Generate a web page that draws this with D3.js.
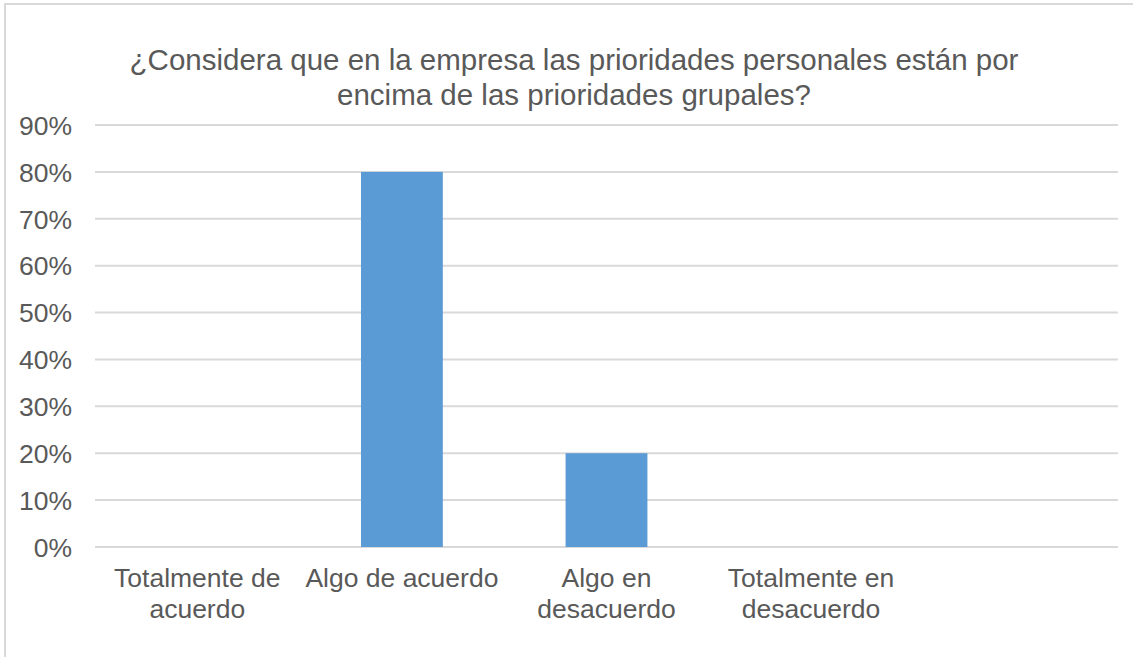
<!DOCTYPE html>
<html>
<head>
<meta charset="utf-8">
<script src="https://cdn.jsdelivr.net/npm/d3@7"></script>
<style>
  html, body { margin: 0; padding: 0; background: #fff; }
  svg { display: block; }
  text { font-family: "Liberation Sans", Arial, sans-serif; fill: #595959; }
</style>
</head>
<body>
<svg id="chart" width="1133" height="657"></svg>
<script>
// Survey answers (share of respondents)
const categories = ["Totalmente de acuerdo", "Algo de acuerdo", "Algo en desacuerdo", "Totalmente en desacuerdo", ""];
const categoryLines = [["Totalmente de", "acuerdo"], ["Algo de acuerdo"], ["Algo en", "desacuerdo"], ["Totalmente en", "desacuerdo"], [""]];
const values = [0, 0.80, 0.20, 0, null];
const yTicks = [0, 0.1, 0.2, 0.3, 0.4, 0.5, 0.6, 0.7, 0.8, 0.9];
const titleLines = ["¿Considera que en la empresa las prioridades personales están por", "encima de las prioridades grupales?"];

const svg = d3.select("#chart");
const plot = { left: 95, right: 1118, top: 125, bottom: 547 };

// chart area frame
svg.append("rect")
  .attr("x", 5).attr("y", 4)
  .attr("width", 1150).attr("height", 700)
  .attr("fill", "#fff")
  .attr("stroke", "#d9d9d9").attr("stroke-width", 2);

const x = d3.scaleBand()
  .domain(categories.map((d, i) => i))
  .range([plot.left, plot.right])
  .paddingInner(0.6).paddingOuter(0.3);

const y = d3.scaleLinear().domain([0, 0.9]).range([plot.bottom, plot.top]);

// gridlines
svg.append("g").selectAll("line").data(yTicks).join("line")
  .attr("x1", plot.left).attr("x2", plot.right)
  .attr("y1", d => y(d)).attr("y2", d => y(d))
  .attr("stroke", "#d9d9d9").attr("stroke-width", 2);

// y axis labels
const yAxis = d3.axisLeft(y).tickValues(yTicks).tickFormat(d3.format(".0%")).tickSize(0).tickPadding(0);
const gy = svg.append("g").attr("transform", `translate(72,0)`).call(yAxis);
gy.select(".domain").remove();
gy.selectAll("text")
  .attr("font-family", "'Liberation Sans', Arial, sans-serif")
  .attr("font-size", 26.5)
  .attr("fill", "#595959")
  .attr("dy", "0.35em");

// bars
svg.append("g").selectAll("rect")
  .data(values.map((v, i) => ({ v, i })).filter(d => d.v !== null && d.v > 0))
  .join("rect")
  .attr("x", d => x(d.i))
  .attr("width", x.bandwidth())
  .attr("y", d => y(d.v))
  .attr("height", d => y(0) - y(d.v))
  .attr("fill", "#5b9bd5");

// category labels
const cat = svg.append("g").selectAll("text").data(categoryLines).join("text")
  .attr("text-anchor", "middle")
  .attr("font-size", 26.5)
  .attr("fill", "#595959");
cat.each(function (lines, i) {
  const cx = x(i) + x.bandwidth() / 2;
  d3.select(this).selectAll("tspan").data(lines).join("tspan")
    .attr("x", cx)
    .attr("y", (d, j) => 587 + j * 31)
    .text(d => d);
});

// title
svg.append("g").selectAll("text").data(titleLines).join("text")
  .attr("x", 574)
  .attr("y", (d, i) => 70 + i * 35)
  .attr("text-anchor", "middle")
  .attr("font-size", 29.5)
  .attr("fill", "#595959")
  .text(d => d);
</script>
</body>
</html>
